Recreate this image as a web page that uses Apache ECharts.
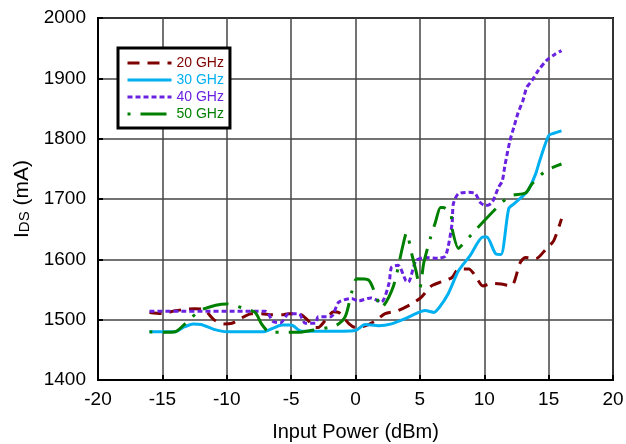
<!DOCTYPE html>
<html>
<head>
<meta charset="utf-8">
<script src="https://cdn.jsdelivr.net/npm/echarts@6/dist/echarts.min.js"></script>
<style>
  html, body { margin: 0; padding: 0; background: #fff; }
  #chart { width: 626px; height: 444px; }
</style>
</head>
<body>
<div id="chart"></div>
<script>
// Drain current vs input power, four frequencies
const seriesNames = ['20 GHz', '30 GHz', '40 GHz', '50 GHz'];

const x20 = [-16, -15, -14, -12.5, -11.8, -11, -10.3, -9.6, -8.9, -8.1, -7.3, -6.5, -5.7, -5.2, -4.4, -3.65, -3.1, -2.9, -2.3, -1.7, -1.3, -0.5, 0, 0.8, 1.55, 2.3, 3.3, 4.35, 5.1, 5.9, 6.7, 7.5, 8, 8.8, 9.3, 9.9, 10.6, 11.3, 12.1, 12.8, 13.2, 14, 14.8, 15.4, 16];
const y20 = [1512, 1510, 1515, 1518, 1517, 1500, 1493, 1494, 1502, 1510, 1510, 1508, 1508, 1510, 1510, 1498, 1487, 1487, 1500, 1513, 1512, 1493, 1487, 1490, 1498, 1510, 1515, 1526, 1537, 1556, 1563, 1570, 1584, 1584, 1573, 1556, 1560, 1559, 1556, 1595, 1603, 1601, 1617, 1631, 1667];

const x30 = [-16, -14, -13.4, -12.6, -12, -11, -10, -7.1, -6.4, -5.7, -5, -4.2, -1, 0, 0.75, 1.8, 2.8, 3.9, 4.9, 5.4, 6.1, 6.5, 7.2, 8, 8.9, 9.9, 10.2, 10.9, 11.3, 11.9, 12.3, 12.9, 13.4, 14, 14.3, 15, 15.4, 16];
const y30 = [1480, 1480, 1487, 1493, 1492, 1484, 1480, 1480, 1486, 1491, 1491, 1481, 1481, 1482, 1492, 1490, 1493, 1502, 1512, 1515, 1512, 1520, 1543, 1581, 1606, 1637, 1637, 1609, 1608, 1684, 1692, 1703, 1714, 1742, 1763, 1805, 1809, 1813];

const x40 = [-16, -7, -6.4, -5.8, -5.2, -4.4, -3.9, -3.1, -2.9, -1.9, -1.3, -0.3, 0.2, 1.2, 2, 2.6, 2.8, 3.3, 3.9, 4.1, 4.7, 5.4, 6.4, 7, 7.5, 7.6, 8, 8.8, 9.3, 9.7, 10.1, 10.6, 11.1, 11.4, 11.6, 12, 12.3, 12.6, 13, 13.3, 13.7, 14.2, 14.8, 15.5, 16];
const y40 = [1514, 1514, 1497, 1495, 1510, 1510, 1494, 1494, 1505, 1505, 1529, 1535, 1531, 1536, 1529, 1560, 1587, 1590, 1565, 1562, 1598, 1603, 1602, 1606, 1659, 1692, 1709, 1711, 1709, 1694, 1689, 1694, 1719, 1730, 1755, 1797, 1819, 1841, 1863, 1885, 1896, 1913, 1929, 1940, 1946];

const x50 = [-16, -14.9, -14, -13.1, -12, -10, -8.85, -7.8, -7.3, -6.8, -6.5, -4.4, -3.5, -1.55, -0.8, -0.3, 0.1, 1, 1.5, 2, 2.95, 3.65, 3.96, 4.4, 4.7, 5.0, 5.3, 5.8, 6.2, 6.6, 6.8, 7.4, 7.5, 8, 8.2, 9.3, 10.9, 12, 13.2, 13.7, 14.8, 16];
const y50 = [1480, 1479, 1480, 1496, 1516, 1526, 1520, 1512, 1493, 1480, 1479, 1479, 1482, 1490, 1505, 1545, 1568, 1566, 1545, 1520, 1556, 1620, 1644, 1606, 1581, 1553, 1594, 1634, 1661, 1686, 1686, 1676, 1651, 1618, 1622, 1648, 1684, 1705, 1710, 1725, 1747, 1758];

const xTicks = { min: -20, max: 20, step: 5 };
const yTicks = { min: 1400, max: 2000, step: 100 };

const colors = ['#7f0000', '#00b0f0', '#6a22e0', '#008000'];
const dashes = [[12, 8], null, [5, 3], [3, 10, 26, 10]];
const xs = [x20, x30, x40, x50];
const ys = [y20, y30, y40, y50];

const FONT = "'Liberation Sans', Arial, sans-serif";

const series = seriesNames.map((name, i) => ({
  name: name,
  type: 'line',
  data: xs[i].map((x, k) => [x, ys[i][k]]),
  symbol: 'none',
  smooth: 0.25,
  lineStyle: {
    color: colors[i],
    width: 3,
    type: dashes[i] || 'solid',
    cap: 'butt'
  },
  itemStyle: { color: colors[i] },
  z: 2 + i
}));

const chart = echarts.init(document.getElementById('chart'), null, { renderer: 'canvas' });
chart.setOption({
  animation: false,
  backgroundColor: '#fff',
  grid: {
    left: 98, top: 18, width: 515, height: 362,
    outerBoundsMode: 'none',
    containLabel: false,
    show: true, borderColor: '#000', borderWidth: 2, backgroundColor: 'transparent'
  },
  legend: {
    orient: 'vertical',
    left: 118, top: 48,
    padding: [8, 6, 7, 8],
    itemGap: 3,
    itemWidth: 44,
    itemHeight: 14,
    borderColor: '#000',
    borderWidth: 3,
    backgroundColor: '#fff',
    itemStyle: { opacity: 0 },
    lineStyle: { width: 3 },
    textStyle: { fontSize: 14, fontFamily: FONT },
    data: seriesNames.map((n, i) => ({ name: n, textStyle: { color: colors[i] } }))
  },
  xAxis: {
    type: 'value',
    min: xTicks.min, max: xTicks.max, interval: xTicks.step,
    name: 'Input Power (dBm)',
    nameLocation: 'middle',
    nameGap: 42,
    nameTextStyle: { fontSize: 20, color: '#000', fontFamily: FONT },
    axisLine: { onZero: false, lineStyle: { color: '#000', width: 2 } },
    axisTick: { inside: true, length: 5, lineStyle: { color: '#000', width: 2 } },
    axisLabel: { fontSize: 19, color: '#000', margin: 10, fontFamily: FONT },
    splitLine: { show: true, lineStyle: { color: '#444', width: 1.5 } }
  },
  yAxis: {
    type: 'value',
    min: yTicks.min, max: yTicks.max, interval: yTicks.step,
    name: '{i|I}{s|DS}{n| (mA)}',
    nameLocation: 'middle',
    nameGap: 62,
    nameRotate: 90,
    nameTextStyle: {
      color: '#000', fontFamily: FONT,
      rich: {
        i: { fontSize: 21, fontFamily: FONT, color: '#000', verticalAlign: 'bottom' },
        s: { fontSize: 15, fontFamily: FONT, color: '#000', verticalAlign: 'bottom' },
        n: { fontSize: 21, fontFamily: FONT, color: '#000', verticalAlign: 'bottom' }
      }
    },
    axisLine: { onZero: false, lineStyle: { color: '#000', width: 2 } },
    axisTick: { inside: true, length: 5, lineStyle: { color: '#000', width: 2 } },
    axisLabel: {
      fontSize: 19, color: '#000', margin: 12, fontFamily: FONT,
      formatter: (v) => String(v)
    },
    splitLine: { show: true, lineStyle: { color: '#444', width: 1.5 } }
  },
  series: series
});
</script>
</body>
</html>
